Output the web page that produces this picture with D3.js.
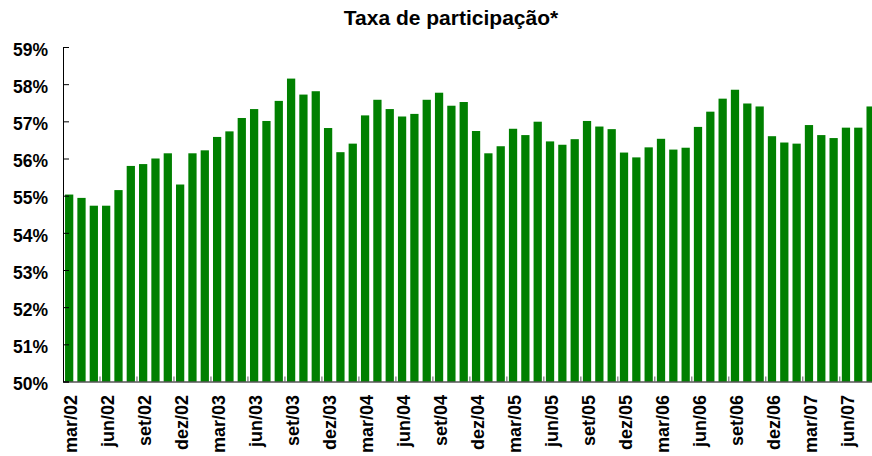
<!DOCTYPE html>
<html>
<head>
<meta charset="utf-8">
<script src="https://cdn.jsdelivr.net/npm/d3@7"></script>
<style>
	body { margin: 0; background: #fff; }
	svg { display: block; font-family: Arial, "Liberation Sans", sans-serif; }
	.domain { stroke: #000; }
</style>
</head>
<body>
<div id="chart"></div>
<script>
const months = [
	"mar/02","abr/02","mai/02","jun/02","jul/02","ago/02","set/02","out/02","nov/02","dez/02",
	"jan/03","fev/03","mar/03","abr/03","mai/03","jun/03","jul/03","ago/03","set/03","out/03","nov/03","dez/03",
	"jan/04","fev/04","mar/04","abr/04","mai/04","jun/04","jul/04","ago/04","set/04","out/04","nov/04","dez/04",
	"jan/05","fev/05","mar/05","abr/05","mai/05","jun/05","jul/05","ago/05","set/05","out/05","nov/05","dez/05",
	"jan/06","fev/06","mar/06","abr/06","mai/06","jun/06","jul/06","ago/06","set/06","out/06","nov/06","dez/06",
	"jan/07","fev/07","mar/07","abr/07","mai/07","jun/07","jul/07","ago/07"
];
const taxa = [
	55.03, 54.94, 54.73, 54.73, 55.15, 55.80, 55.85, 56.00, 56.14, 55.30,
	56.14, 56.22, 56.58, 56.73, 57.09, 57.33, 57.01, 57.55, 58.15, 57.72, 57.81, 56.82,
	56.17, 56.40, 57.16, 57.58, 57.33, 57.13, 57.20, 57.58, 57.77, 57.42, 57.52, 56.74,
	56.14, 56.33, 56.80, 56.63, 56.99, 56.46, 56.37, 56.52, 57.01, 56.86, 56.79, 56.16,
	56.03, 56.30, 56.53, 56.24, 56.29, 56.85, 57.26, 57.61, 57.85, 57.48, 57.40, 56.60,
	56.43, 56.40, 56.90, 56.63, 56.55, 56.83, 56.83, 57.40
];
const yTicks = [50, 51, 52, 53, 54, 55, 56, 57, 58, 59];
const title = "Taxa de participação*";

const width = 872, height = 456;
const plotLeft = 63, plotTop = 47, plotBottom = 381.5;
const step = 12.33;

const svg = d3.select("#chart")
	.append("svg")
	.attr("width", width)
	.attr("height", height);

const x = d3.scaleBand()
	.domain(months)
	.range([plotLeft, plotLeft + months.length * step])
	.paddingInner(0.33)
	.paddingOuter(0.165);

const y = d3.scaleLinear()
	.domain([50, 59])
	.range([plotBottom, plotTop]);

svg.append("text")
	.attr("x", 451)
	.attr("y", 24.5)
	.attr("text-anchor", "middle")
	.style("font-size", "21px")
	.style("font-weight", "bold")
	.text(title);

svg.append("g")
	.selectAll("rect")
	.data(taxa)
	.join("rect")
	.attr("x", (d, i) => x(months[i]))
	.attr("y", d => y(d))
	.attr("width", x.bandwidth())
	.attr("height", d => y(50) - y(d))
	.attr("fill", "#008000");

const y_axis = d3.axisLeft(y)
	.tickValues(yTicks)
	.tickSize(-6)
	.tickPadding(15)
	.tickFormat(d => d + "%");

svg.append("g")
	.attr("transform", "translate(" + plotLeft + ",0)")
	.call(y_axis)
	.call(g => g.selectAll("text")
		.attr("dy", "0.47em")
		.style("font-size", "17.5px")
		.style("font-weight", "bold")
		.attr("fill", "#000"));

// labels every 3 months, ticks at the band boundaries
const labelled = months.filter((m, i) => i % 3 == 0);
const x_axis = d3.axisBottom(x)
	.tickValues(labelled)
	.tickSize(0)
	.tickSizeOuter(0);

const xg = svg.append("g")
	.attr("transform", "translate(0," + plotBottom + ")")
	.call(x_axis);
xg.select(".domain").attr("d", "M" + plotLeft + ",0.5H" + width);
xg.selectAll("text")
	.attr("transform", "rotate(-90)")
	.attr("text-anchor", "end")
	.attr("x", -13.5)
	.attr("y", 0)
	.attr("dy", "0.42em")
	.style("font-size", "18px")
	.style("font-weight", "bold")
	.attr("fill", "#000");

const gap = (x.step() - x.bandwidth()) / 2;
svg.append("g")
	.selectAll("line")
	.data(labelled.slice(1))
	.join("line")
	.attr("x1", d => x(d) - gap)
	.attr("x2", d => x(d) - gap)
	.attr("y1", plotBottom - 5)
	.attr("y2", plotBottom)
	.attr("stroke", "#555");
</script>
</body>
</html>
